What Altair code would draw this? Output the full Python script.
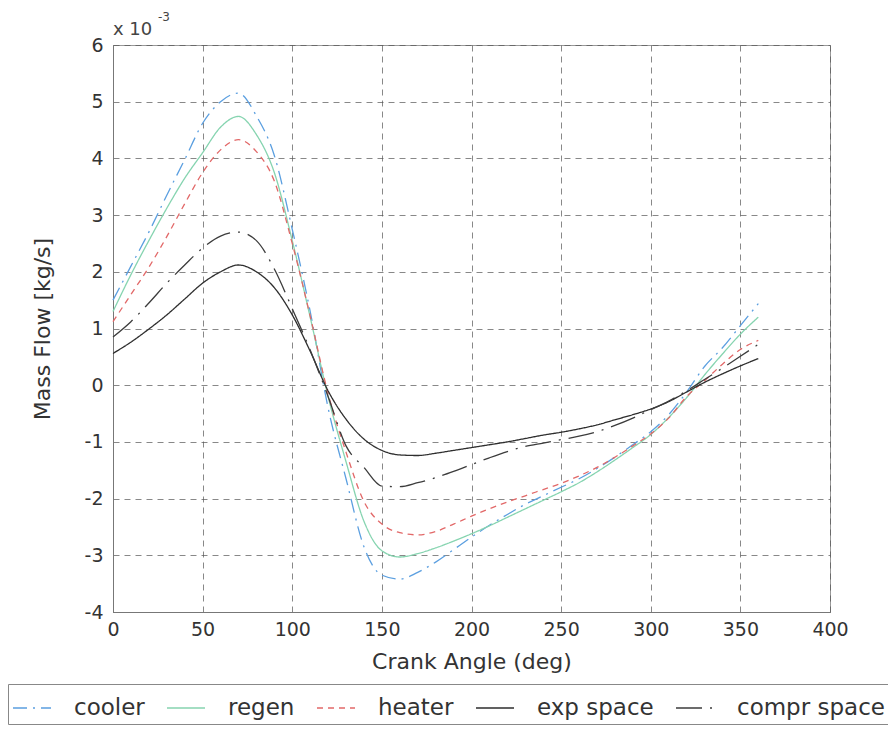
import altair as alt
import pandas as pd

# ---- data (values in units of 1e-3 kg/s) ----
angle = [0, 10, 20, 30, 40, 50, 60, 70, 80, 90, 100, 110, 120, 130, 140, 150, 160, 170, 180,
         190, 200, 210, 220, 230, 240, 250, 260, 270, 280, 290, 300, 310, 320, 330, 340, 350, 360]

cooler = [1.50, 2.10, 2.70, 3.35, 3.98, 4.62, 5.00, 5.15, 4.75, 4.05, 2.75, 1.30, -0.40, -1.65,
          -2.85, -3.35, -3.42, -3.30, -3.12, -2.90, -2.68, -2.47, -2.28, -2.10, -1.95, -1.80,
          -1.65, -1.47, -1.27, -1.05, -0.82, -0.52, -0.12, 0.33, 0.66, 1.05, 1.44]

regen = [1.30, 1.95, 2.55, 3.12, 3.65, 4.10, 4.55, 4.74, 4.42, 3.75, 2.55, 1.20, -0.20, -1.35,
         -2.40, -2.92, -3.03, -2.97, -2.87, -2.75, -2.62, -2.48, -2.33, -2.18, -2.03, -1.88,
         -1.72, -1.53, -1.32, -1.10, -0.87, -0.57, -0.22, 0.18, 0.55, 0.90, 1.20]

heater = [1.12, 1.60, 2.08, 2.62, 3.20, 3.75, 4.15, 4.33, 4.12, 3.60, 2.50, 1.22, -0.15, -1.18,
          -2.05, -2.45, -2.60, -2.64, -2.58, -2.45, -2.31, -2.18, -2.06, -1.95, -1.84, -1.73,
          -1.60, -1.45, -1.27, -1.07, -0.86, -0.58, -0.20, 0.08, 0.37, 0.63, 0.79]

exp_space = [0.56, 0.76, 0.99, 1.24, 1.52, 1.80, 2.00, 2.12, 2.00, 1.72, 1.24, 0.60, -0.10, -0.60,
             -0.95, -1.15, -1.23, -1.24, -1.20, -1.15, -1.10, -1.05, -1.00, -0.94, -0.88, -0.83,
             -0.77, -0.70, -0.61, -0.52, -0.42, -0.29, -0.12, 0.05, 0.20, 0.34, 0.47]

compr_space = [0.85, 1.12, 1.45, 1.80, 2.12, 2.42, 2.63, 2.70, 2.55, 2.05, 1.35, 0.62, -0.20, -1.07,
               -1.45, -1.78, -1.79, -1.72, -1.63, -1.52, -1.40, -1.28, -1.17, -1.08, -1.02, -0.96,
               -0.90, -0.82, -0.71, -0.58, -0.43, -0.28, -0.10, 0.10, 0.30, 0.51, 0.72]

series_names = ["cooler", "regen", "heater", "exp space", "compr space"]
x_ticks = [0, 50, 100, 150, 200, 250, 300, 350, 400]
y_ticks = [-4, -3, -2, -1, 0, 1, 2, 3, 4, 5, 6]

# ---- styling ----
colors = ["#5b9fe0", "#86d4b0", "#e26868", "#2e2e2e", "#3c3c3c"]
dashes = [[14, 6, 2, 6], [1, 0], [6, 5], [1, 0], [26, 8, 2, 8]]
FONT = "DejaVu Sans"

rows = []
for name, vals in zip(series_names, [cooler, regen, heater, exp_space, compr_space]):
    for a, v in zip(angle, vals):
        rows.append({"angle": a, "flow": v, "series": name})
df = pd.DataFrame(rows)

legend = alt.Legend(
    title=None, orient="none", legendX=-105, legendY=639, direction="horizontal", columns=5,
    symbolType="stroke", symbolSize=1444, symbolStrokeWidth=1.5,
    labelFont=FONT, labelFontSize=23, labelColor="#333", labelOffset=22, labelLimit=300,
    columnPadding=19, padding=4, strokeColor="#888", fillColor="white",
)

lines = alt.Chart(df).mark_line(strokeWidth=1.3, interpolate="monotone").encode(
    x=alt.X("angle:Q", scale=alt.Scale(domain=[0, 400], nice=False),
            axis=alt.Axis(values=x_ticks, title="Crank Angle (deg)", labelFlush=False)),
    y=alt.Y("flow:Q", scale=alt.Scale(domain=[-4, 6], nice=False),
            axis=alt.Axis(values=y_ticks, title="Mass Flow [kg/s]",
                          labelExpr="'' + datum.value", labelPadding=10, titlePadding=30)),
    color=alt.Color("series:N", scale=alt.Scale(domain=series_names, range=colors), legend=legend),
    strokeDash=alt.StrokeDash("series:N", scale=alt.Scale(domain=series_names, range=dashes),
                              legend=legend),
)

exp_label = alt.Chart(pd.DataFrame({"t": ["x 10"]})).mark_text(
    align="left", baseline="alphabetic", font=FONT, fontSize=18, color="#444"
).encode(x=alt.value(0), y=alt.value(-10), text="t:N")

exp_power = alt.Chart(pd.DataFrame({"t": ["-3"]})).mark_text(
    align="left", baseline="alphabetic", font=FONT, fontSize=12, color="#444"
).encode(x=alt.value(45), y=alt.value(-24), text="t:N")

chart = alt.layer(lines, exp_label, exp_power).properties(
    width=717, height=567,
    padding={"left": 113, "top": 45, "right": 58, "bottom": 120},
    autosize=alt.AutoSizeParams(type="none"),
).configure_view(
    stroke="#999", strokeWidth=1
).configure_axis(
    labelFont=FONT, labelFontSize=19, labelColor="#333",
    titleFont=FONT, titleFontSize=22, titleFontWeight="normal", titleColor="#333",
    grid=True, gridColor="#555", gridDash=[6, 5], gridOpacity=0.7, gridWidth=1,
    domainColor="#777", ticks=False, labelPadding=8,
).configure_axisX(
    titlePadding=12
)

chart.save("out.html", embed_options={"renderer": "svg", "actions": False})
